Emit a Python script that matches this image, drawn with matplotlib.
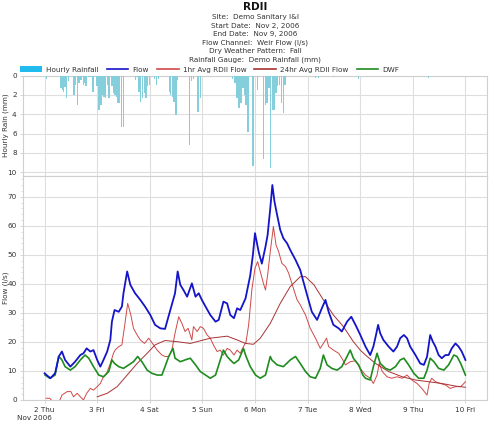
import matplotlib
matplotlib.use("Agg")
import matplotlib.pyplot as plt
from matplotlib.patches import Patch
from matplotlib.lines import Line2D
from matplotlib.ticker import MultipleLocator

# ---------------- data (x = days since Nov 2 2006 00:00) ----------------
rain_hours = [0.8, 7.6, 8.1, 8.7, 9.4, 10.0, 11.0, 13.5, 14.1, 15.1, 15.8, 16.7, 17.7, 18.3, 19.0,
              20.3, 21.2, 22.1, 23.9, 24.8, 25.7, 26.3, 27.1, 27.8, 28.7, 29.5, 30.7, 31.5, 32.1,
              32.7, 33.5, 34.2, 35.1, 35.9, 41.4, 42.2, 43.1, 43.8, 44.6, 45.5, 46.3, 47.0, 47.8,
              50.1, 51.0, 51.9, 56.9, 57.5, 58.3, 59.0, 60.0, 60.7, 66.2, 67.1, 68.0, 70.1, 71.2,
              85.8, 86.9, 87.8, 88.7, 89.6, 90.5, 91.3, 92.0, 92.9, 95.1, 97.2, 99.9, 100.7, 101.5,
              102.4, 103.0, 103.9, 104.7, 105.6, 106.3, 107.1, 108.0, 108.9, 109.7, 123.5, 125.0,
              131.9, 143.3, 175.2]
rain_mm = [0.3, 1.3, 1.5, 1.65, 1.2, 2.3, 0.6, 2.0, 0.95, 3.0, 0.8, 0.45, 0.95, 0.8, 1.1,
           0.1, 0.1, 1.65, 1.1, 3.55, 3.0, 2.0, 2.2, 2.35, 0.95, 2.35, 1.1, 1.8, 2.0,
           2.2, 2.85, 2.85, 5.3, 5.3, 0.45, 0.1, 1.65, 2.7, 2.35, 1.8, 2.35, 1.1, 0.95,
           0.3, 0.95, 0.3, 1.65, 2.0, 2.2, 2.7, 4.1, 0.45, 7.2, 0.6, 0.3, 3.8, 2.35,
           0.3, 0.8, 2.35, 3.4, 2.85, 1.3, 2.0, 3.0, 5.8, 9.4, 1.5, 8.6, 3.0, 2.85,
           1.3, 9.6, 3.55, 3.55, 1.8, 1.1, 0.95, 2.85, 3.9, 0.95, 0.2, 0.2,
           0.15, 0.3, 0.2]

flow_t = [0.00, 0.11, 0.20, 0.27, 0.33, 0.39, 0.49, 0.58, 0.68, 0.74, 0.80, 0.87, 0.93, 1.00,
          1.06, 1.12, 1.19, 1.25, 1.28, 1.33, 1.41, 1.47, 1.50, 1.57, 1.63, 1.72, 1.82, 1.91,
          2.01, 2.10, 2.20, 2.29, 2.39, 2.48, 2.53, 2.58, 2.64, 2.71, 2.80, 2.87, 2.93, 2.99,
          3.06, 3.15, 3.25, 3.31, 3.40, 3.47, 3.53, 3.60, 3.66, 3.72, 3.82, 3.91, 3.96, 4.00,
          4.07, 4.13, 4.20, 4.24, 4.29, 4.33, 4.37, 4.42, 4.48, 4.54, 4.61, 4.67, 4.77, 4.86,
          4.92, 4.99, 5.08, 5.18, 5.27, 5.34, 5.40, 5.49, 5.59, 5.65, 5.75, 5.83, 5.91, 6.00,
          6.10, 6.19, 6.25, 6.30, 6.34, 6.38, 6.44, 6.54, 6.63, 6.70, 6.76, 6.83, 6.89, 6.95,
          7.05, 7.14, 7.21, 7.27, 7.33, 7.38, 7.43, 7.49, 7.55, 7.62, 7.68, 7.74, 7.81, 7.87,
          7.93, 8.00]
flow_v = [9.2, 7.5, 9.2, 15.0, 16.7, 13.8, 11.5, 13.2, 15.5, 16.1, 17.8, 16.7, 17.2, 13.8,
          11.5, 13.8, 16.7, 20.7, 27.0, 31.0, 30.4, 32.2, 36.8, 44.3, 39.7, 36.8, 34.5, 32.2,
          29.3, 25.9, 24.7, 24.5, 31.0, 36.8, 44.3, 39.7, 37.9, 35.6, 40.2, 35.6, 36.8, 34.5,
          32.2, 29.3, 27.0, 27.6, 33.9, 33.3, 29.3, 28.2, 31.6, 31.0, 35.0, 43.0, 50.0, 57.5,
          51.0, 47.0, 52.9, 56.9, 66.0, 74.1, 68.4, 63.8, 58.6, 55.7, 54.0, 51.7, 48.3, 44.8,
          40.8, 36.2, 30.4, 27.6, 31.6, 34.5, 30.4, 25.9, 24.7, 23.6, 27.0, 28.7, 25.9, 22.5,
          18.4, 15.5, 18.4, 22.4, 25.9, 23.0, 20.7, 18.4, 16.7, 18.4, 21.3, 22.4, 21.3, 18.4,
          15.5, 12.6, 12.1, 14.9, 22.4, 20.1, 18.4, 15.5, 14.4, 15.5, 15.5, 17.8, 19.5, 18.4,
          16.7, 13.8]

rdii1_t = [0.03, 0.10, 0.15, 0.28, 0.33, 0.43, 0.50, 0.55, 0.62, 0.68, 0.74, 0.80, 0.87, 0.93,
           1.00, 1.06, 1.12, 1.18, 1.25, 1.31, 1.34, 1.41, 1.47, 1.52, 1.58, 1.64, 1.69, 1.76,
           1.82, 1.90, 1.98, 2.07, 2.14, 2.23, 2.29, 2.36, 2.42, 2.48, 2.55, 2.61, 2.67, 2.73,
           2.80, 2.83, 2.90, 2.96, 3.02, 3.09, 3.15, 3.21, 3.28, 3.34, 3.40, 3.47, 3.53, 3.60,
           3.66, 3.72, 3.78, 3.83, 3.88, 3.94, 4.00, 4.05, 4.10, 4.16, 4.20, 4.24, 4.29, 4.35,
           4.40, 4.45, 4.51, 4.58, 4.64, 4.73, 4.80, 4.86, 4.96, 5.05, 5.15, 5.24, 5.30, 5.36,
           5.40, 5.49, 5.59, 5.65, 5.72, 5.81, 5.91, 6.00, 6.10, 6.19, 6.25, 6.32, 6.36, 6.42,
           6.51, 6.60, 6.70, 6.80, 6.89, 6.98, 7.08, 7.17, 7.27, 7.31, 7.36, 7.43, 7.52, 7.62,
           7.71, 7.81, 7.91, 7.97, 8.00]
rdii1_v = [0.6, 0.6, -0.5, -0.5, 1.7, 2.9, 2.9, 1.1, 2.3, 1.1, 0.0, 2.3, 4.0, 3.4,
           4.6, 5.7, 8.0, 9.2, 12.6, 16.1, 17.2, 18.4, 19.0, 25.3, 33.3, 29.3, 24.7, 22.4,
           20.7, 19.5, 21.3, 19.0, 17.2, 15.5, 15.0, 15.0, 17.2, 23.0, 28.7, 26.4, 23.6, 24.7,
           20.7, 25.3, 23.6, 25.3, 24.7, 22.4, 21.3, 19.0, 16.7, 17.2, 15.5, 17.8, 17.2, 15.5,
           17.2, 16.1, 18.4, 20.0, 26.0, 38.0, 45.4, 47.7, 44.3, 40.2, 37.9, 43.1, 51.1, 59.8,
           53.4, 51.1, 47.1, 46.0, 43.7, 38.5, 34.5, 32.8, 29.3, 24.7, 21.3, 17.8, 19.5, 21.3,
           18.4, 17.2, 16.1, 14.4, 12.1, 13.2, 13.5, 10.9, 8.6, 7.5, 5.7, 8.6, 12.6, 9.8,
           8.0, 7.5, 8.0, 7.5, 8.6, 6.9, 5.7, 4.0, 1.7, 5.7, 7.5, 6.3, 5.7, 5.2,
           4.0, 4.6, 4.6, 5.7, 6.3]

rdii24_t = [1.00, 1.19, 1.38, 1.57, 1.76, 1.95, 2.10, 2.29, 2.52, 2.77, 3.15, 3.47, 3.66, 3.82,
            3.97, 4.10, 4.29, 4.48, 4.67, 4.86, 4.96, 5.12, 5.30, 5.49, 5.68, 5.87, 6.00, 6.10,
            6.29, 6.54, 6.80, 7.05, 7.30, 7.55, 7.81, 8.00]
rdii24_v = [1.1, 2.3, 4.6, 8.6, 12.6, 16.1, 19.0, 20.5, 20.1, 19.5, 21.3, 22.0, 20.7, 19.5,
            19.2, 21.3, 26.4, 33.3, 39.1, 42.5, 42.5, 39.7, 34.5, 29.3, 25.3, 20.1, 17.2, 15.5,
            12.6, 9.8, 8.0, 6.9, 6.3, 5.7, 4.8, 4.4]

dwf_t = [0.01, 0.10, 0.20, 0.27, 0.33, 0.39, 0.49, 0.58, 0.68, 0.77, 0.84, 0.93, 1.03, 1.12,
         1.22, 1.28, 1.33, 1.41, 1.50, 1.60, 1.69, 1.77, 1.85, 1.95, 2.04, 2.14, 2.23, 2.29,
         2.36, 2.44, 2.48, 2.58, 2.67, 2.77, 2.87, 2.96, 3.06, 3.15, 3.25, 3.34, 3.40, 3.47,
         3.53, 3.60, 3.69, 3.78, 3.83, 3.91, 4.01, 4.10, 4.20, 4.29, 4.32, 4.42, 4.54, 4.67,
         4.77, 4.86, 4.96, 5.05, 5.15, 5.24, 5.30, 5.37, 5.46, 5.56, 5.65, 5.75, 5.81, 5.87,
         5.97, 6.05, 6.10, 6.19, 6.25, 6.32, 6.38, 6.48, 6.57, 6.67, 6.76, 6.83, 6.92, 7.02,
         7.11, 7.21, 7.27, 7.33, 7.40, 7.49, 7.59, 7.68, 7.78, 7.84, 7.91, 8.00]
dwf_v = [8.6, 7.5, 8.6, 15.0, 13.8, 11.5, 10.3, 11.5, 13.8, 15.5, 14.4, 11.5, 8.6, 8.0,
         9.8, 13.8, 12.6, 11.5, 10.9, 12.1, 13.2, 15.0, 13.2, 10.3, 9.2, 8.6, 8.6, 11.5,
         15.0, 17.8, 14.4, 13.2, 13.8, 14.4, 12.1, 9.8, 8.6, 7.5, 8.6, 13.8, 17.2, 15.0,
         13.8, 12.6, 13.8, 17.8, 15.0, 11.5, 8.6, 7.5, 8.6, 15.0, 13.8, 12.1, 11.5, 13.8,
         15.0, 12.6, 9.8, 8.0, 7.5, 10.9, 15.5, 12.1, 10.9, 10.3, 11.5, 15.0, 17.2, 14.4,
         12.1, 8.6, 7.5, 6.9, 11.5, 16.1, 12.6, 10.9, 10.3, 11.5, 13.8, 14.4, 12.1, 9.2,
         7.5, 7.5, 10.3, 14.4, 13.2, 10.9, 10.3, 12.1, 15.5, 15.0, 12.6, 8.6]

day_ticks = [0, 1, 2, 3, 4, 5, 6, 7, 8]
day_labels = ["2 Thu", "3 Fri", "4 Sat", "5 Sun", "6 Mon", "7 Tue", "8 Wed", "9 Thu", "10 Fri"]

title = "RDII"
subtitle = ["Site:  Demo Sanitary I&I", "Start Date:  Nov 2, 2006", "End Date:  Nov 9, 2006",
            "Flow Channel:  Weir Flow (l/s)", "Dry Weather Pattern:  Fall",
            "Rainfall Gauge:  Demo Rainfall (mm)"]

# ---------------- styling ----------------
plt.rcParams['font.family'] = ['DejaVu Sans']
C_FLOW = '#1414c8'
C_R1 = '#d04848'
C_R24 = '#a83232'
C_DWF = '#1f8c1f'
C_RAIN = '#84cfdb'
GRID = '#dedede'
SPINE = '#cfcfcf'
TXT = '#333333'
FS = 5.2

fig = plt.figure(figsize=(5.0, 4.22), dpi=100)
L, W = 0.046, 0.928
ax_r = fig.add_axes([L, 1 - 176 / 422, W, (176 - 75.7) / 422])
ax_f = fig.add_axes([L, 1 - 400 / 422, W, (400 - 176) / 422])

xlim = (-0.41, 8.41)

# rain panel
ax_r.bar([h / 24.0 for h in rain_hours], rain_mm, width=0.028, color=C_RAIN, align='center',
         linewidth=0, zorder=3)
ax_r.set_ylim(10.4, 0)
ax_r.set_yticks([0, 2, 4, 6, 8, 10])

# flow panel
ax_f.plot(flow_t, flow_v, color=C_FLOW, lw=1.3, zorder=5)
ax_f.plot(rdii1_t, rdii1_v, color=C_R1, lw=0.7, zorder=4)
ax_f.plot(rdii24_t, rdii24_v, color=C_R24, lw=0.7, zorder=4)
ax_f.plot(dwf_t, dwf_v, color=C_DWF, lw=1.2, zorder=4)
ax_f.set_ylim(0, 77.2)
ax_f.set_yticks([0, 10, 20, 30, 40, 50, 60, 70])
ax_f.yaxis.set_minor_locator(MultipleLocator(2))

for ax in (ax_r, ax_f):
    ax.set_xlim(*xlim)
    ax.set_xticks(day_ticks)
    ax.grid(True, color=GRID, lw=0.8, zorder=0)
    ax.set_axisbelow(True)
    for s in ax.spines.values():
        s.set_color(SPINE)
        s.set_linewidth(0.8)
    ax.tick_params(axis='both', which='major', labelsize=FS, labelcolor=TXT, length=2.5,
                   width=0.6, pad=2, color=SPINE)
    ax.tick_params(axis='y', which='minor', length=1.5, width=0.5, color=SPINE)
ax_r.tick_params(axis='x', labelbottom=False, length=0)
ax_f.set_xticklabels(day_labels)
ax_f.tick_params(axis='x', pad=2.5)

# axis titles
fig.text(0.011, 1 - 125 / 422, "Hourly Rain (mm)", rotation=90, ha='center', va='center',
         fontsize=FS, color=TXT)
fig.text(0.011, 1 - 288 / 422, "Flow (l/s)", rotation=90, ha='center', va='center',
         fontsize=FS, color=TXT)

# titles
fig.text(0.51, 1 - 7.5 / 422, title, ha='center', va='center', fontsize=7.5,
         fontweight='bold', color='#111111')
for i, s in enumerate(subtitle):
    fig.text(0.51, 1 - (17.3 + 8.55 * i) / 422, s, ha='center', va='center', fontsize=FS,
             color=TXT)

fig.text(0.034, 1 - 417.5 / 422, "Nov 2006", ha='left', va='center', fontsize=FS, color=TXT)

# legend
handles = [Patch(facecolor='#22bbee', edgecolor='none'),
           Line2D([], [], color=C_FLOW, lw=1.2),
           Line2D([], [], color=C_R1, lw=1.2),
           Line2D([], [], color=C_R24, lw=1.2),
           Line2D([], [], color=C_DWF, lw=1.2)]
labels = ["Hourly Rainfall", "Flow", "1hr Avg RDII Flow", "24hr Avg RDII Flow", "DWF"]
fig.legend(handles, labels, loc='center left', bbox_to_anchor=(0.04, 1 - 69.7 / 422),
           ncol=5, frameon=False, fontsize=FS, handlelength=3.0, handleheight=0.9,
           handletextpad=0.6, columnspacing=1.1, borderaxespad=0, borderpad=0,
           labelcolor=TXT)

fig.savefig("out.png", dpi=100)
